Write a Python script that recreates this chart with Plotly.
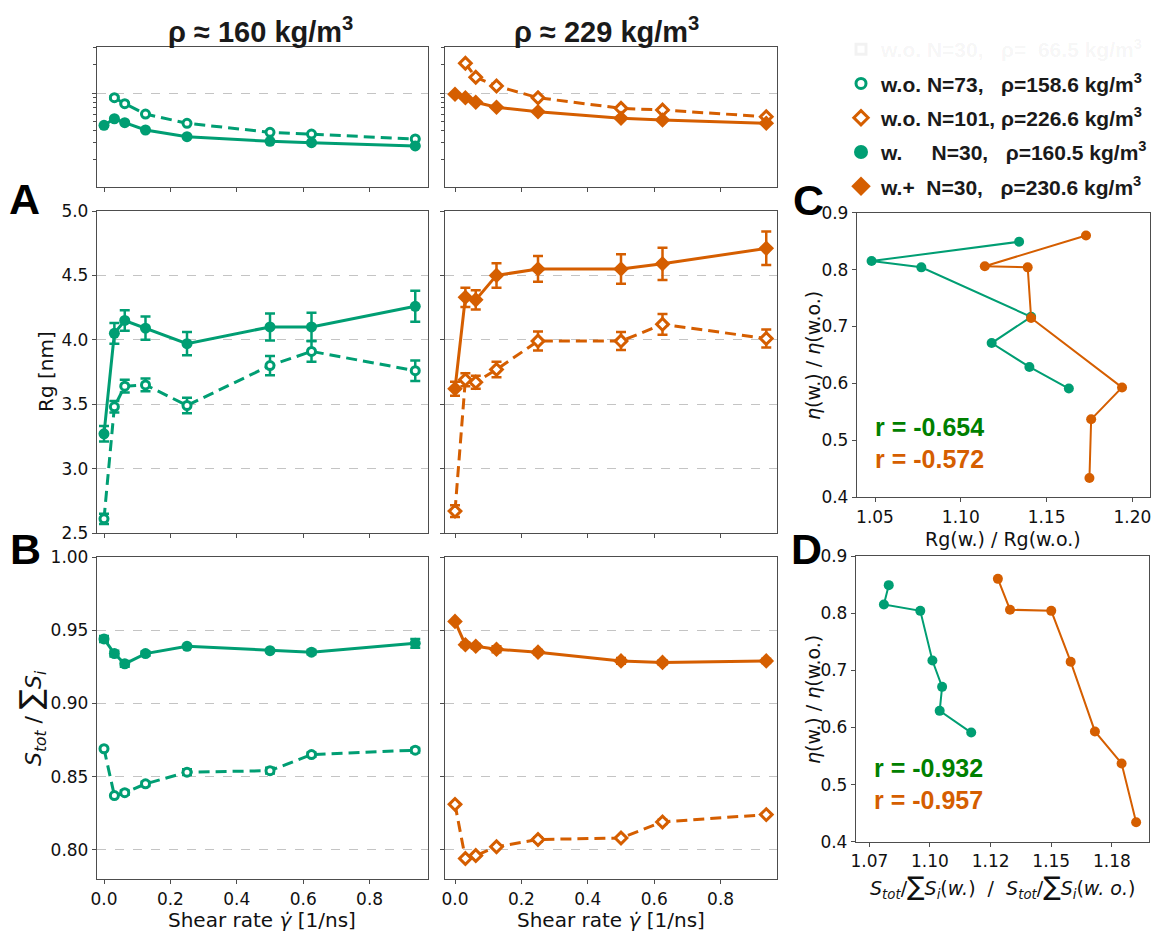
import plotly.graph_objects as go

W, H = 1161, 935
GREEN = "#009e73"
ORANGE = "#d55e00"
RGREEN = "#008000"

# ---------------- data ----------------
shear = [0, 0.03125, 0.0625, 0.125, 0.25, 0.5, 0.625, 0.9375]
shear_wo = shear[1:]

# viscosity (log axis, arbitrary units, labels hidden)
visc_w160 = [0.457, 0.536, 0.487, 0.408, 0.347, 0.310, 0.300, 0.277]
visc_w160_err = [0.012, 0, 0, 0, 0, 0, 0, 0]
visc_wo160 = [0.892, 0.772, 0.601, 0.480, 0.386, 0.370, 0.328]
visc_wo160_err = [0.025, 0, 0, 0, 0, 0, 0]
visc_w229 = [0.969, 0.892, 0.798, 0.707, 0.636, 0.542, 0.520, 0.480]
visc_wo229 = [2.054, 1.463, 1.185, 0.892, 0.690, 0.662, 0.563]

# radius of gyration [nm]
rg_w160 = [3.27, 4.05, 4.15, 4.09, 3.97, 4.10, 4.10, 4.26]
rg_w160_err = [0.06, 0.08, 0.08, 0.09, 0.09, 0.105, 0.11, 0.12]
rg_wo160 = [2.61, 3.48, 3.64, 3.65, 3.49, 3.80, 3.91, 3.76]
rg_wo160_err = [0.04, 0.045, 0.05, 0.05, 0.06, 0.075, 0.08, 0.08]
rg_w229 = [3.62, 4.33, 4.31, 4.50, 4.55, 4.55, 4.59, 4.71]
rg_w229_err = [0.055, 0.075, 0.075, 0.095, 0.10, 0.115, 0.125, 0.13]
rg_wo229 = [2.67, 3.69, 3.67, 3.77, 3.99, 3.99, 4.12, 4.01]
rg_wo229_err = [0.045, 0.05, 0.05, 0.06, 0.074, 0.07, 0.08, 0.07]

# S_tot / sum S_i
s_w160 = [0.944, 0.934, 0.927, 0.934, 0.939, 0.936, 0.935, 0.941]
s_w160_err = [0.002, 0.002, 0.002, 0.0015, 0, 0, 0.0015, 0.003]
s_wo160 = [0.869, 0.837, 0.839, 0.845, 0.853, 0.854, 0.865, 0.868]
s_wo160_err = [0, 0, 0.0015, 0.0015, 0.002, 0.002, 0.0015, 0.0015]
s_w229 = [0.956, 0.940, 0.939, 0.937, 0.935, 0.929, 0.928, 0.929]
s_w229_err = [0, 0.0015, 0.0015, 0.002, 0.0015, 0.002, 0.0015, 0.0015]
s_wo229 = [0.831, 0.794, 0.796, 0.802, 0.807, 0.808, 0.819, 0.824]
s_wo229_err = [0, 0, 0, 0, 0.0015, 0, 0.0015, 0]

# ratios (panels C and D)
eta_ratio160 = [0.849, 0.815, 0.804, 0.717, 0.671, 0.629, 0.591]
rg_ratio160 = [1.134, 1.048, 1.077, 1.141, 1.118, 1.140, 1.163]
s_ratio160 = [1.083, 1.081, 1.096, 1.101, 1.105, 1.104, 1.117]
eta_ratio229 = [0.860, 0.806, 0.804, 0.715, 0.593, 0.537, 0.434]
rg_ratio229 = [1.173, 1.114, 1.139, 1.141, 1.194, 1.176, 1.175]
s_ratio229 = [1.128, 1.133, 1.150, 1.158, 1.168, 1.179, 1.185]

r_C = ["r = -0.654", "r = -0.572"]
r_D = ["r = -0.932", "r = -0.957"]

legend_names = [
    "w.o. N=30,\u00a0\u00a0\u00a0ρ=\u00a0\u00a066.5 kg/m<sup>3</sup>",
    "w.o. N=73,\u00a0\u00a0\u00a0ρ=158.6 kg/m<sup>3</sup>",
    "w.o. N=101, ρ=226.6 kg/m<sup>3</sup>",
    "w.\u00a0\u00a0\u00a0\u00a0\u00a0N=30,\u00a0\u00a0\u00a0ρ=160.5 kg/m<sup>3</sup>",
    "w.+\u00a0\u00a0N=30,\u00a0\u00a0\u00a0ρ=230.6 kg/m<sup>3</sup>",
]

shear_ticks = [0.0, 0.2, 0.4, 0.6, 0.8]


def xd(l, r):
    return [l / W, r / W]


def yd(t, b):
    return [1 - b / H, 1 - t / H]


fig = go.Figure()

FR = "#4d4d4d"
tickfont = dict(family="DejaVu Sans", size=17, color="#111111")
base = dict(showline=True, mirror=True, linecolor=FR, linewidth=1.3,
            ticks="outside", ticklen=4, tickwidth=1.2, tickcolor=FR,
            zeroline=False, showgrid=False, tickfont=tickfont, automargin=False)
grid = dict(showgrid=True, gridcolor="#c4c4c4", griddash="dash", gridwidth=0.8)

L_COL = (97, 428)
R_COL = (445, 777)
TOP = (47.3, 186.7)
AROW = (211, 533)
BROW = (557, 879)
xr_left = [(97 - 104) / 332, (428 - 104) / 332]
xr_right = [(445 - 455) / 332, (777 - 455) / 332]

layout_axes = {}
# top viscosity panels
for i, col, xr in [(1, L_COL, xr_left), (2, R_COL, xr_right)]:
    layout_axes[f"xaxis{i}"] = dict(base, domain=xd(*col), range=xr, tickvals=shear_ticks,
                                    showticklabels=False, anchor=f"y{i}")
    layout_axes[f"yaxis{i}"] = dict(base, **grid, domain=yd(*TOP), type="log", range=[-0.986, 0.481],
                                    tickvals=[1], showticklabels=False, anchor=f"x{i}",
                                    minor=dict(tickmode="array",
                                               tickvals=[0.2, 0.3, 0.4, 0.5, 0.6, 0.7, 0.8, 0.9, 2, 3],
                                               ticks="outside", ticklen=3, tickcolor=FR, showgrid=False))
# Rg panels
for i, col, xr, show in [(3, L_COL, xr_left, True), (4, R_COL, xr_right, False)]:
    layout_axes[f"xaxis{i}"] = dict(base, domain=xd(*col), range=xr, tickvals=shear_ticks,
                                    showticklabels=False, anchor=f"y{i}")
    layout_axes[f"yaxis{i}"] = dict(base, **grid, domain=yd(*AROW), range=[2.5, 5.0],
                                    tickvals=[2.5, 3.0, 3.5, 4.0, 4.5, 5.0], tickformat=".1f",
                                    showticklabels=show, anchor=f"x{i}")
# S panels
for i, col, xr, show in [(5, L_COL, xr_left, True), (6, R_COL, xr_right, False)]:
    layout_axes[f"xaxis{i}"] = dict(base, domain=xd(*col), range=xr, tickvals=shear_ticks,
                                    tickformat=".1f", anchor=f"y{i}")
    layout_axes[f"yaxis{i}"] = dict(base, **grid, domain=yd(*BROW), range=[0.78, 1.0],
                                    tickvals=[0.80, 0.85, 0.90, 0.95, 1.00], tickformat=".2f",
                                    showticklabels=show, anchor=f"x{i}")
# panel C
layout_axes["xaxis7"] = dict(base, domain=xd(857, 1150), range=[1.0395, 1.2103],
                             tickvals=[1.05, 1.10, 1.15, 1.20], tickformat=".2f", anchor="y7")
layout_axes["yaxis7"] = dict(base, domain=yd(212.7, 497.3), range=[0.4, 0.9],
                             tickvals=[0.4, 0.5, 0.6, 0.7, 0.8, 0.9], tickformat=".1f", anchor="x7")
# panel D
layout_axes["xaxis8"] = dict(base, domain=xd(856, 1149), range=[1.0695, 1.1903],
                             tickvals=[1.075, 1.100, 1.125, 1.150, 1.175],
                             ticktext=["1.07", "1.10", "1.12", "1.15", "1.18"], anchor="y8")
layout_axes["yaxis8"] = dict(base, domain=yd(556, 841.7), range=[0.4, 0.9],
                             tickvals=[0.4, 0.5, 0.6, 0.7, 0.8, 0.9], tickformat=".1f", anchor="x8")


def ax(i):
    return ("x" if i == 1 else f"x{i}", "y" if i == 1 else f"y{i}")


def series(i, x, y, err, color, filled, symbol, dashed):
    xa, ya = ax(i)
    if symbol == "diamond":
        msize = 12 if filled else 9
    else:
        msize = 11 if filled else 8
    marker = dict(symbol=symbol, size=msize,
                  color=color if filled else "white",
                  line=dict(color=color, width=0 if filled else 3))
    eb = None
    if err is not None:
        eb = dict(type="data", array=err, visible=True, color=color, thickness=2.5, width=5)
    fig.add_trace(go.Scatter(x=x, y=y, xaxis=xa, yaxis=ya, mode="lines+markers",
                             line=dict(color=color, width=3, dash="11px,6px" if dashed else "solid"),
                             marker=marker, error_y=eb, showlegend=False, hoverinfo="x+y"))


# top: viscosity
series(1, shear_wo, visc_wo160, visc_wo160_err, GREEN, False, "circle", True)
series(1, shear, visc_w160, visc_w160_err, GREEN, True, "circle", False)
series(2, shear_wo, visc_wo229, None, ORANGE, False, "diamond", True)
series(2, shear, visc_w229, None, ORANGE, True, "diamond", False)
# A: Rg
series(3, shear, rg_wo160, rg_wo160_err, GREEN, False, "circle", True)
series(3, shear, rg_w160, rg_w160_err, GREEN, True, "circle", False)
series(4, shear, rg_wo229, rg_wo229_err, ORANGE, False, "diamond", True)
series(4, shear, rg_w229, rg_w229_err, ORANGE, True, "diamond", False)
# B: S ratio
series(5, shear, s_wo160, s_wo160_err, GREEN, False, "circle", True)
series(5, shear, s_w160, s_w160_err, GREEN, True, "circle", False)
series(6, shear, s_wo229, s_wo229_err, ORANGE, False, "diamond", True)
series(6, shear, s_w229, s_w229_err, ORANGE, True, "diamond", False)

# C and D
for xs, ys, c in [(rg_ratio160, eta_ratio160, GREEN), (rg_ratio229, eta_ratio229, ORANGE)]:
    fig.add_trace(go.Scatter(x=xs, y=ys, xaxis="x7", yaxis="y7", mode="lines+markers",
                             line=dict(color=c, width=2), marker=dict(size=10, color=c),
                             showlegend=False))
for xs, ys, c in [(s_ratio160, eta_ratio160, GREEN), (s_ratio229, eta_ratio229, ORANGE)]:
    fig.add_trace(go.Scatter(x=xs, y=ys, xaxis="x8", yaxis="y8", mode="lines+markers",
                             line=dict(color=c, width=2), marker=dict(size=10, color=c),
                             showlegend=False))

# legend entries
FAINT = "rgba(0,0,0,0.05)"
leg_styles = [
    (FAINT, "square", False, 10),
    (GREEN, "circle", False, 10),
    (ORANGE, "diamond", False, 11),
    (GREEN, "circle", True, 14),
    (ORANGE, "diamond", True, 15),
]
for k, (name, (c, sym, filled, sz)) in enumerate(zip(legend_names, leg_styles)):
    label = name if k > 0 else f"<span style='color:{FAINT}'>{name}</span>"
    fig.add_trace(go.Scatter(x=[None], y=[None], xaxis="x7", yaxis="y7", mode="markers",
                             name=label, legendgroup=f"g{k}",
                             marker=dict(symbol=sym, size=sz, color=c if filled else "white",
                                         line=dict(color=c, width=0 if filled else 3)),
                             showlegend=True))

ann = []


def text(x, y, s, size=20, family="DejaVu Sans", color="#111111", angle=0, xanchor="center", bold=False):
    ann.append(dict(x=x / W, y=1 - y / H, xref="paper", yref="paper", text=s, showarrow=False,
                    xanchor=xanchor, yanchor="middle", textangle=angle,
                    font=dict(family=family, size=size, color=color,
                              weight="bold" if bold else "normal")))


ARIAL = "Liberation Sans, Arial"
text(260, 30, "ρ ≈ 160 kg/m<sup>3</sup>", size=29, family=ARIAL, bold=True, color="#1a1a1a")
text(606, 30, "ρ ≈ 229 kg/m<sup>3</sup>", size=29, family=ARIAL, bold=True, color="#1a1a1a")
for lt, lx, ly in [("A", 24, 199), ("B", 25, 549), ("C", 808, 200), ("D", 806, 549)]:
    text(lx, ly, lt, size=43, family=ARIAL, bold=True, color="#000000")

text(46, 372, "Rg [nm]", size=20, angle=-90)
text(31, 718, "<i>S</i><sub><i>tot</i></sub> / <span style='font-size:30px'>∑</span><i>S</i><sub><i>i</i></sub>",
     size=22, angle=-90)
text(262, 920, "Shear rate <i>γ̇</i> [1/ns]", size=20)
text(611, 920, "Shear rate <i>γ̇</i> [1/ns]", size=20)
text(1003, 539, "Rg(w.) / Rg(w.o.)", size=19)
text(813, 356, "<i>η</i>(w.) / <i>η</i>(w.o.)", size=19, angle=-90)
text(813, 700, "<i>η</i>(w.) / <i>η</i>(w.o.)", size=19, angle=-90)
text(1002, 886,
     "<i>S<sub>tot</sub></i>/<span style='font-size:26px'>∑</span><i>S<sub>i</sub></i>(<i>w.</i>)  /  "
     "<i>S<sub>tot</sub></i>/<span style='font-size:26px'>∑</span><i>S<sub>i</sub></i>(<i>w. o.</i>)",
     size=19)

text(873, 427, r_C[0], size=25, family=ARIAL, color=RGREEN, xanchor="left", bold=True)
text(873, 459, r_C[1], size=25, family=ARIAL, color=ORANGE, xanchor="left", bold=True)
text(872, 768, r_D[0], size=25, family=ARIAL, color=RGREEN, xanchor="left", bold=True)
text(872, 800, r_D[1], size=25, family=ARIAL, color=ORANGE, xanchor="left", bold=True)

fig.update_layout(
    template="none",
    width=W, height=H,
    margin=dict(l=0, r=0, t=0, b=0, pad=0),
    paper_bgcolor="white", plot_bgcolor="white",
    annotations=ann,
    showlegend=True,
    legend=dict(x=841 / W, y=1 - 29 / H, xanchor="left", yanchor="top",
                font=dict(family=ARIAL, size=21, color="#1a1a1a", weight="bold"),
                bgcolor="rgba(0,0,0,0)", borderwidth=0, tracegroupgap=4, itemwidth=30),
    **layout_axes,
)

fig.write_html("out.html", config={"displayModeBar": False},
               post_script="document.body.style.margin='0px';")
